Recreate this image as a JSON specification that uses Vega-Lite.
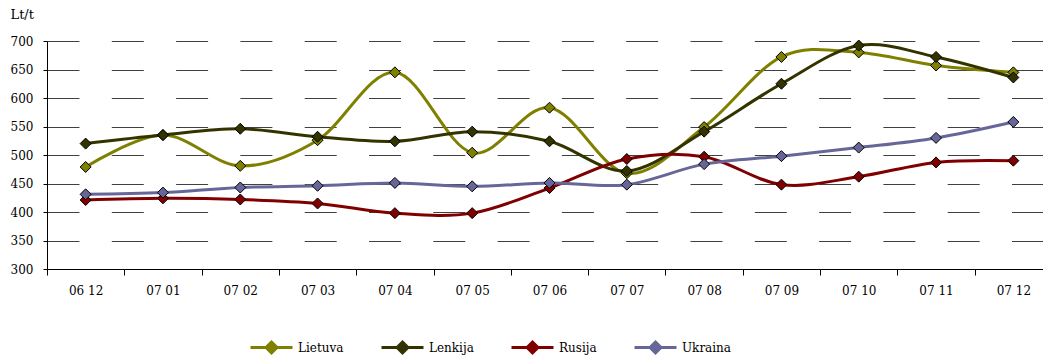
{
  "$schema": "https://vega.github.io/schema/vega-lite/v6.json",
  "autosize": "none",
  "width": 996,
  "height": 228,
  "padding": {"left": 47, "top": 41, "right": 0, "bottom": 88},
  "background": "white",
  "config": {
    "view": {"stroke": null},
    "font": "DejaVu Serif"
  },
  "data": {
    "values": [
      {"month": "06 12", "series": "Lietuva", "value": 479},
      {"month": "07 01", "series": "Lietuva", "value": 535},
      {"month": "07 02", "series": "Lietuva", "value": 481},
      {"month": "07 03", "series": "Lietuva", "value": 526},
      {"month": "07 04", "series": "Lietuva", "value": 645},
      {"month": "07 05", "series": "Lietuva", "value": 504},
      {"month": "07 06", "series": "Lietuva", "value": 583},
      {"month": "07 07", "series": "Lietuva", "value": 468},
      {"month": "07 08", "series": "Lietuva", "value": 549},
      {"month": "07 09", "series": "Lietuva", "value": 672},
      {"month": "07 10", "series": "Lietuva", "value": 680},
      {"month": "07 11", "series": "Lietuva", "value": 657},
      {"month": "07 12", "series": "Lietuva", "value": 645},
      {"month": "06 12", "series": "Lenkija", "value": 520},
      {"month": "07 01", "series": "Lenkija", "value": 535},
      {"month": "07 02", "series": "Lenkija", "value": 546},
      {"month": "07 03", "series": "Lenkija", "value": 532},
      {"month": "07 04", "series": "Lenkija", "value": 524},
      {"month": "07 05", "series": "Lenkija", "value": 541},
      {"month": "07 06", "series": "Lenkija", "value": 524},
      {"month": "07 07", "series": "Lenkija", "value": 472},
      {"month": "07 08", "series": "Lenkija", "value": 541},
      {"month": "07 09", "series": "Lenkija", "value": 625},
      {"month": "07 10", "series": "Lenkija", "value": 692},
      {"month": "07 11", "series": "Lenkija", "value": 672},
      {"month": "07 12", "series": "Lenkija", "value": 636},
      {"month": "06 12", "series": "Rusija", "value": 421},
      {"month": "07 01", "series": "Rusija", "value": 424},
      {"month": "07 02", "series": "Rusija", "value": 422},
      {"month": "07 03", "series": "Rusija", "value": 415},
      {"month": "07 04", "series": "Rusija", "value": 398},
      {"month": "07 05", "series": "Rusija", "value": 398},
      {"month": "07 06", "series": "Rusija", "value": 442},
      {"month": "07 07", "series": "Rusija", "value": 493},
      {"month": "07 08", "series": "Rusija", "value": 497},
      {"month": "07 09", "series": "Rusija", "value": 448},
      {"month": "07 10", "series": "Rusija", "value": 462},
      {"month": "07 11", "series": "Rusija", "value": 487},
      {"month": "07 12", "series": "Rusija", "value": 490},
      {"month": "06 12", "series": "Ukraina", "value": 431},
      {"month": "07 01", "series": "Ukraina", "value": 434},
      {"month": "07 02", "series": "Ukraina", "value": 443},
      {"month": "07 03", "series": "Ukraina", "value": 446},
      {"month": "07 04", "series": "Ukraina", "value": 451},
      {"month": "07 05", "series": "Ukraina", "value": 445},
      {"month": "07 06", "series": "Ukraina", "value": 451},
      {"month": "07 07", "series": "Ukraina", "value": 448},
      {"month": "07 08", "series": "Ukraina", "value": 484},
      {"month": "07 09", "series": "Ukraina", "value": 498},
      {"month": "07 10", "series": "Ukraina", "value": 513},
      {"month": "07 11", "series": "Ukraina", "value": 530},
      {"month": "07 12", "series": "Ukraina", "value": 558}
    ]
  },
  "encoding": {
    "x": {
      "field": "month", "type": "ordinal", "sort": null,
      "scale": {"type": "band", "paddingInner": 0, "paddingOuter": 0, "range": [0, 1005]},
      "axis": {"title": null, "labelAngle": 0, "labelFont": "DejaVu Serif", "labelFontSize": 12, "labelColor": "#000", "labelPadding": 10, "tickSize": 6, "tickColor": "#000", "domainColor": "#000", "tickBand": "extent", "grid": false}
    },
    "y": {
      "field": "value", "type": "quantitative",
      "scale": {"domain": [300, 700], "nice": false, "zero": false},
      "axis": {
        "values": [300, 350, 400, 450, 500, 550, 600, 650, 700],
        "title": "Lt/t", "titleAngle": 0, "titleAlign": "left", "titleBaseline": "alphabetic", "titleX": -37, "titleY": -23, "titleFont": "DejaVu Serif", "titleFontSize": 13, "titleFontWeight": "normal", "titleColor": "#000",
        "labelFont": "DejaVu Serif", "labelFontSize": 12, "labelColor": "#000", "labelPadding": 10, "tickSize": 4, "tickColor": "#000", "domainColor": "#000",
        "grid": true, "gridColor": "#404040", "gridDash": [32, 32.3], "gridWidth": 1
      }
    },
    "color": {
      "field": "series", "type": "nominal",
      "scale": {"domain": ["Lietuva", "Lenkija", "Rusija", "Ukraina"], "range": ["#808000", "#333300", "#800000", "#666699"]},
      "legend": {
        "title": null, "orient": "none", "direction": "horizontal", "legendX": 202, "legendY": 284,
        "symbolType": "M-1,0L1,0M0,-0.26L0.26,0L0,0.26L-0.26,0Z", "symbolSize": 1764, "symbolStrokeWidth": 3,
        "labelFont": "DejaVu Serif", "labelFontSize": 12, "labelColor": "#000", "labelOffset": 4, "columnPadding": 31
      }
    }
  },
  "layer": [
    {"mark": {"type": "line", "interpolate": "cardinal", "strokeWidth": 3}},
    {"mark": {"type": "point", "shape": "diamond", "filled": true, "size": 121, "stroke": "#000", "strokeWidth": 1, "opacity": 1}}
  ]
}
